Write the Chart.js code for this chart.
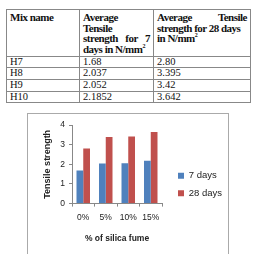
<!DOCTYPE html>
<html>
<head>
<meta charset="utf-8">
<script src="https://cdn.jsdelivr.net/npm/chart.js@4"></script>
<style>
  body { margin: 0; background: #fff; width: 261px; height: 254px; overflow: hidden; position: relative; }
  table { position: absolute; left: 6px; top: 9px; width: 244px; table-layout: fixed; border-collapse: collapse; font-family: "Liberation Serif", serif; color: #111; }
  td { border: 1px solid #888; padding: 0 3px; vertical-align: top; font-size: 10.5px; line-height: 10.6px; height: 10.6px; }
  th { border: 1px solid #888; padding: 2px 3px 1px 3px; vertical-align: top; text-align: left; font-weight: bold; font-size: 11px; line-height: 10.7px; letter-spacing: -0.5px; }
  .j { text-align: justify; text-align-last: justify; }
  sup { font-size: 6px; line-height: 0; }
  .box { position: absolute; left: 27px; top: 113px; width: 200px; height: 150px; border: 1px solid #aaa; }
  .box canvas { position: absolute; left: 0; top: 0; }
</style>
</head>
<body>
<table>
  <colgroup><col style="width:73px"><col style="width:74px"><col style="width:97px"></colgroup>
  <tr>
    <th>Mix name</th>
    <th>Average<br>Tensile<div class="j">strength for 7</div>days in N/mm<sup>2</sup></th>
    <th><div class="j">Average Tensile</div>strength for 28 days<br>in N/mm<sup>2</sup></th>
  </tr>
  <tr><td>H7</td><td>1.68</td><td>2.80</td></tr>
  <tr><td>H8</td><td>2.037</td><td>3.395</td></tr>
  <tr><td>H9</td><td>2.052</td><td>3.42</td></tr>
  <tr><td>H10</td><td>2.1852</td><td>3.642</td></tr>
</table>
<div class="box"><canvas id="c" width="200" height="150"></canvas></div>
<script>
const categories = ['0%', '5%', '10%', '15%']
const sevenDays = [1.68, 2.037, 2.052, 2.1852]
const twentyEightDays = [2.80, 3.395, 3.42, 3.642]
const yTicks = [0, 1, 2, 3, 4]

// the right legend gets squeezed by the layout, give it a fixed width
const legendWidth = {
  id: 'legendWidth',
  beforeLayout(chart) {
    const lg = chart.legend
    if (lg && !lg._fixed) {
      const fit = lg.fit
      lg.fit = function () { fit.call(this); this.width = 58 }
      lg._fixed = true
    }
  }
}

const ctx = document.getElementById('c')
new Chart(ctx, {
  type: 'bar',
  data: {
    labels: categories,
    datasets: [
      { label: '7 days', data: sevenDays, backgroundColor: '#4F81BD' },
      { label: '28 days', data: twentyEightDays, backgroundColor: '#C0504D' }
    ]
  },
  options: {
    responsive: false,
    animation: false,
    layout: { padding: { left: 14, right: 0, top: 11, bottom: 20 } },
    datasets: { bar: { categoryPercentage: 0.6, barPercentage: 1 } },
    plugins: {
      tooltip: { enabled: false },
      legend: {
        position: 'right',
        align: 'center',
        labels: { boxWidth: 6, boxHeight: 6, padding: 8, color: '#222', font: { family: 'Liberation Sans', size: 9.5 } }
      }
    },
    scales: {
      x: {
        grid: { display: true, drawOnChartArea: false, drawTicks: true, tickLength: 3, color: '#888' },
        border: { color: '#888' },
        ticks: { color: '#222', font: { family: 'Liberation Sans', size: 8.5 }, padding: 6, maxRotation: 0, minRotation: 0, autoSkip: false },
        title: { display: true, text: '% of silica fume', color: '#222', font: { family: 'Liberation Sans', size: 8.5, weight: 'bold' }, padding: { top: 5, bottom: 0 } }
      },
      y: {
        min: 0, max: 4,
        afterBuildTicks: s => { s.ticks = yTicks.map(v => ({ value: v })) },
        afterFit: s => { s.width = 30 },
        grid: { display: true, drawOnChartArea: false, drawTicks: true, tickLength: 3, color: '#888' },
        border: { color: '#888' },
        ticks: { color: '#222', font: { family: 'Liberation Sans', size: 8.5 }, padding: 4 },
        title: { display: true, text: 'Tensile strength', color: '#222', font: { family: 'Liberation Sans', size: 9, weight: 'bold' }, padding: 0 }
      },
      gap: {
        type: 'linear',
        position: 'right',
        display: true,
        afterFit: s => { s.width = 8 },
        grid: { display: false },
        border: { display: false },
        ticks: { display: false }
      }
    }
  },
  plugins: [legendWidth]
})
</script>
</body>
</html>
